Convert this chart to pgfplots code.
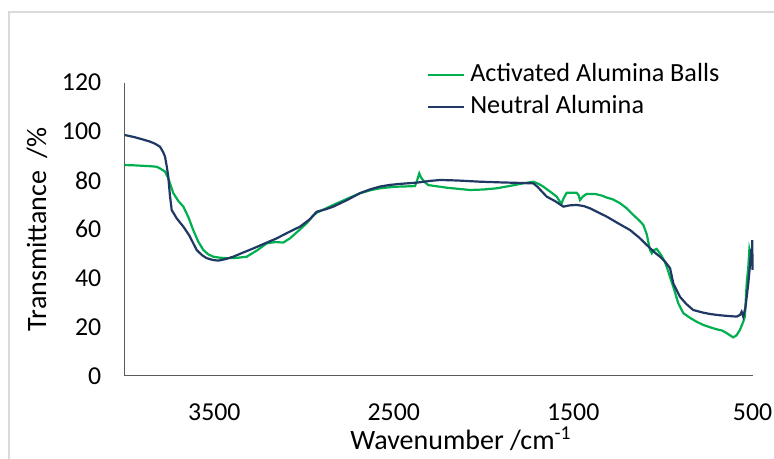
\documentclass[border=0pt]{standalone}
\usepackage{pgfplots}
\pgfplotsset{compat=1.18}
\usepackage{fontspec}
\setmainfont{Carlito}
\definecolor{agreen}{HTML}{00B050}
\definecolor{anavy}{HTML}{203864}
\definecolor{axgray}{HTML}{595959}
\definecolor{frame}{HTML}{D9D9D9}
\begin{document}
\begin{tikzpicture}
\useasboundingbox (0,0) rectangle (387pt,229.5pt);
\fill[white] (0,0) rectangle (387pt,229.5pt);
\draw[frame, line width=1pt] (4.5pt,0pt) -- (4.5pt,223.5pt) -- (387pt,223.5pt);
\begin{axis}[
  at={(62.35pt,41.5pt)}, anchor=south west,
  scale only axis, width=313.95pt, height=146.65pt,
  x dir=reverse,
  xmin=500, xmax=4000, ymin=0, ymax=120,
  xtick={500,1500,2500,3500}, ytick={0,20,...,120},
  axis x line=bottom, axis y line=left,
  axis line style={-, axgray, line width=0.5pt},
  major tick length=0pt,
  /pgf/number format/assume math mode=true,
  /pgf/number format/1000 sep={},
  tick label style={font=\fontsize{12.9}{14}\selectfont, text=black},
  yticklabel style={xshift=-8.2pt},
  xticklabel style={yshift=-10.2pt},
  every axis x label/.style={at={(axis description cs:0.5356,-0.2148)}, anchor=center},
  every axis y label/.style={at={(axis description cs:-0.1397,0.5)}, rotate=90, anchor=center},
  label style={font=\fontsize{14}{16}\selectfont},
  xlabel={Wavenumber /cm\textsuperscript{-1}},
  ylabel={Transmittance\hspace{3pt} /\%},
  legend style={draw=none, fill=none, at={(axis description cs:0.481,1.062)}, anchor=north west,
    font=\fontsize{13.1}{14}\selectfont, row sep=6pt, column sep=2.5pt, inner sep=0pt,
    nodes={inner sep=0pt, text height=8.5pt, text depth=1.5pt}},
  legend cell align=left,
  legend image code/.code={\draw[#1] (0pt,0pt) -- (18pt,0pt);},
  clip=false,
]
\addplot[agreen, line width=1.1pt] table {
x y
4000 86.3
3950 86.2
3900 86.0
3850 85.8
3822 85.6
3800 84.8
3775 83.6
3757 80.9
3729 74.8
3700 71.5
3673 69.3
3645 65.0
3618 59.7
3590 55.0
3562 51.6
3535 49.8
3506 48.8
3470 48.4
3431 48.2
3380 48.3
3320 48.8
3260 51.5
3208 54.3
3160 54.8
3116 54.6
3079 56.3
3030 59.5
2986 62.5
2950 65.5
2930 66.8
2880 68.5
2837 70.0
2760 72.5
2688 74.8
2630 76.0
2577 76.8
2500 77.4
2420 77.6
2382 77.7
2370 80.0
2358 82.9
2350 81.5
2345 80.9
2330 79.5
2308 78.1
2200 77.0
2075 76.1
2000 76.3
1926 76.8
1850 77.8
1780 78.8
1722 79.5
1690 78.5
1667 77.5
1630 75.5
1592 73.4
1574 71.3
1564 70.7
1555 72.5
1536 75.0
1510 75.0
1481 75.0
1470 74.0
1462 72.0
1445 73.5
1425 74.5
1378 74.5
1340 73.8
1313 73.0
1280 72.3
1239 70.7
1200 68.5
1165 65.9
1130 63.5
1109 61.8
1090 58.0
1072 51.6
1062 50.2
1050 51.5
1035 52.0
1010 49.5
988 46.5
979 44.7
960 40.5
942 36.5
914 29.7
886 25.7
849 23.8
812 22.2
775 20.9
740 20.0
700 19.1
670 18.6
645 17.6
625 16.6
608 15.8
590 16.6
571 18.8
552 22.2
543 24.3
533 37.9
524 44.7
518 51.6
514 50.0
510 48.0
};
\addlegendentry{Activated Alumina Balls}
\addplot[anavy, line width=1.1pt] table {
x y
4000 98.6
3950 97.8
3900 96.8
3859 95.9
3830 95.0
3803 93.8
3785 91.5
3775 89.7
3765 85.5
3757 81.5
3748 74.0
3738 67.9
3710 64.5
3673 61.1
3640 57.5
3599 51.6
3570 49.5
3543 48.2
3510 47.5
3478 47.2
3440 47.8
3395 48.8
3340 50.5
3283 52.2
3220 54.2
3153 56.3
3090 58.7
3023 61.1
2970 64.0
2930 67.2
2880 68.2
2837 69.3
2760 72.0
2688 74.8
2630 76.4
2577 77.5
2520 78.2
2465 78.6
2373 79.1
2300 79.8
2242 80.2
2150 80.0
2020 79.5
1900 79.2
1800 79.0
1722 78.8
1700 77.5
1648 73.4
1600 71.5
1555 69.3
1520 69.8
1481 70.0
1440 69.5
1406 68.6
1313 65.2
1250 62.5
1183 59.7
1130 56.5
1090 53.6
1050 50.8
1016 48.8
988 46.8
960 44.1
942 37.9
905 32.4
870 29.5
831 27.0
780 26.0
740 25.4
700 25.0
660 24.7
626 24.5
589 24.3
570 25.0
561 26.3
552 24.3
540 28.0
524 37.9
515 45.0
508 52.0
504 48.0
502 55.6
501 43.4
500 50.0
};
\addlegendentry{Neutral Alumina}
\end{axis}
\end{tikzpicture}
\end{document}
